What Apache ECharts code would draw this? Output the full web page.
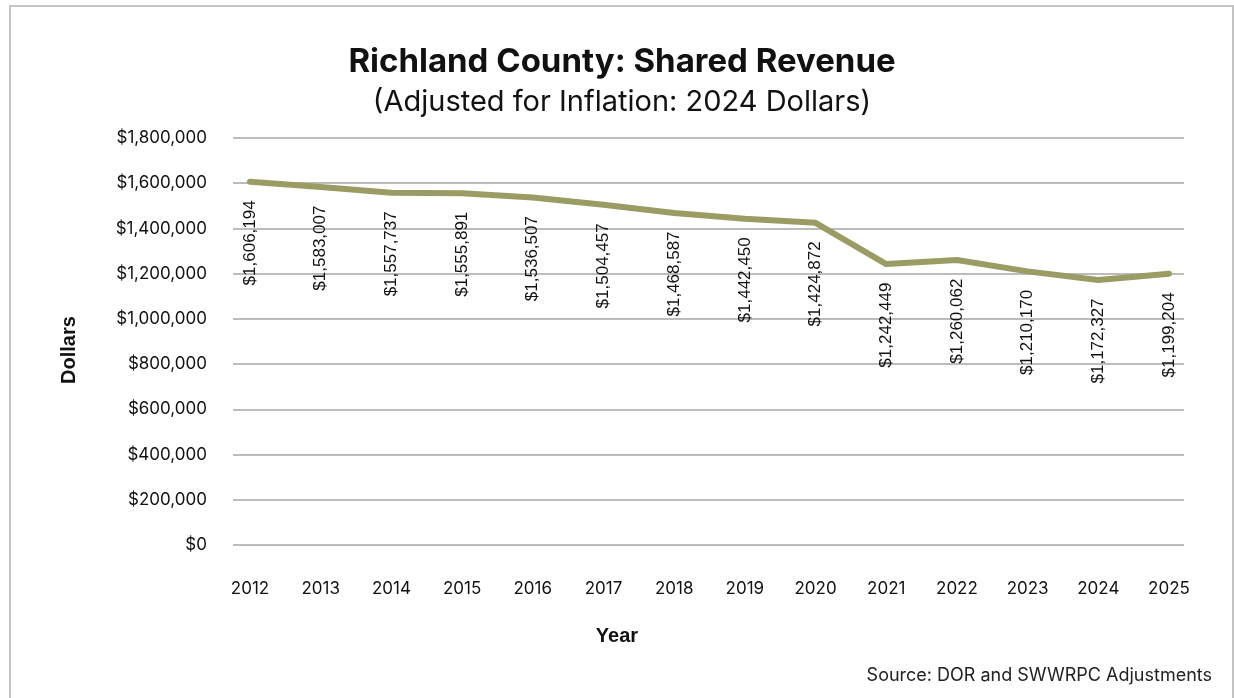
<!DOCTYPE html>
<html>
<head>
<meta charset="utf-8">
<script src="https://cdn.jsdelivr.net/npm/echarts@6/dist/echarts.min.js"></script>
<style>
  html, body { margin: 0; padding: 0; background: #ffffff; }
  #frame {
    position: absolute; left: 9px; top: 5px; width: 1221px; height: 720px;
    border-top: 2px solid #c4c4c4; border-left: 2px solid #c4c4c4; border-right: 2px solid #c4c4c4;
  }
  #chart { position: absolute; left: 0; top: 0; width: 1234px; height: 698px; }
</style>
</head>
<body>
<div id="frame"></div>
<div id="chart"></div>
<script>
// Shared revenue, adjusted to 2024 dollars
const years = ['2012', '2013', '2014', '2015', '2016', '2017', '2018',
               '2019', '2020', '2021', '2022', '2023', '2024', '2025'];
const revenue = [1606194, 1583007, 1557737, 1555891, 1536507, 1504457, 1468587,
                 1442450, 1424872, 1242449, 1260062, 1210170, 1172327, 1199204];
const yMin = 0;
const yMax = 1800000;
const yStep = 200000;

const money = v => '$' + Math.round(v).toLocaleString('en-US');

const chart = echarts.init(document.getElementById('chart'), null, { renderer: 'canvas' });

chart.setOption({
  backgroundColor: 'transparent',
  animation: false,
  title: [
    {
      text: 'Richland County: Shared Revenue',
      left: 617, top: 41, textAlign: 'center',
      textStyle: { fontFamily: 'Inter', fontWeight: 'bold', fontSize: 33, color: '#111111' }
    },
    {
      text: '(Adjusted for Inflation: 2024 Dollars)',
      left: 617, top: 83, textAlign: 'center',
      textStyle: { fontFamily: 'Inter', fontWeight: 'normal', fontSize: 29, color: '#111111' }
    }
  ],
  graphic: [
    {
      type: 'text', position: [69, 350], rotation: Math.PI / 2,
      style: { text: 'Dollars', align: 'center', verticalAlign: 'middle',
               font: 'bold 20px "Liberation Sans", Arial, sans-serif', fill: '#111111' }
    },
    {
      type: 'text', position: [617, 636],
      style: { text: 'Year', align: 'center', verticalAlign: 'middle',
               font: 'bold 20px "Liberation Sans", Arial, sans-serif', fill: '#111111' }
    },
    {
      type: 'text', position: [1212, 676],
      style: { text: 'Source: DOR and SWWRPC Adjustments', align: 'right', verticalAlign: 'middle',
               font: '18px Inter, sans-serif', fill: '#222222' }
    }
  ],
  grid: [
    { left: 233, width: 951, top: 138, height: 407 },
    { left: 250, width: 919, top: 138, height: 407 }
  ],
  xAxis: [
    { gridIndex: 0, type: 'value', show: false, min: 0, max: 1 },
    {
      gridIndex: 1, type: 'category', data: years, boundaryGap: false,
      axisLine: { show: false }, axisTick: { show: false },
      axisLabel: { margin: 35, fontFamily: 'Inter', fontSize: 17, color: '#111111' }
    }
  ],
  yAxis: [
    {
      gridIndex: 0, type: 'value', min: yMin, max: yMax, interval: yStep,
      axisLine: { show: false }, axisTick: { show: false },
      axisLabel: { margin: 26, formatter: money, fontFamily: 'Inter', fontSize: 17, color: '#111111' },
      splitLine: { show: true, lineStyle: { color: '#a6a6a6', width: 1.5 } }
    },
    {
      gridIndex: 1, type: 'value', min: yMin, max: yMax, interval: yStep, show: false,
      splitLine: { show: false }
    }
  ],
  series: [
    {
      type: 'line', xAxisIndex: 1, yAxisIndex: 1, data: revenue,
      symbol: 'circle', symbolSize: 1, showSymbol: true,
      itemStyle: { color: 'rgba(0,0,0,0)' },
      lineStyle: { color: '#9a9c63', width: 6, cap: 'round', join: 'round' },
      emphasis: { disabled: true },
      labelLayout: { hideOverlap: false },
      label: {
        show: true, position: 'bottom', distance: 18, rotate: 90,
        align: 'right', verticalAlign: 'middle',
        formatter: p => money(p.value),
        fontFamily: '"Liberation Sans", Arial, sans-serif', fontSize: 17, color: '#111111'
      }
    }
  ]
});
</script>
</body>
</html>
